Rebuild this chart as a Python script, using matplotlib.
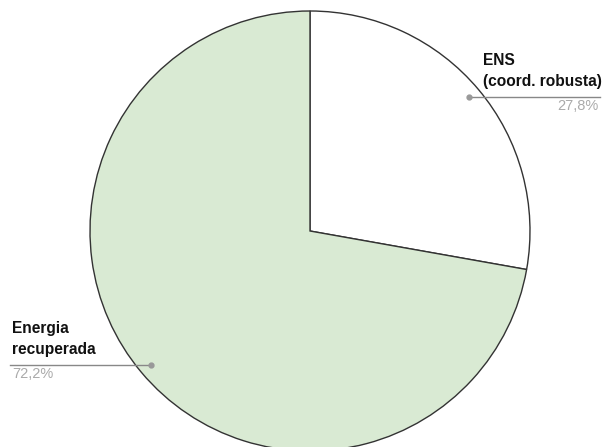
import numpy as np
import matplotlib.pyplot as plt

# data
labels = ['ENS\n(coord. robusta)', 'Energia\nrecuperada']
values = [27.8, 72.2]
pct_text = ['27,8%', '72,2%']
colors = ['#ffffff', '#d9ead3']

plt.rcParams['font.family'] = ['Liberation Sans', 'DejaVu Sans']

fig = plt.figure(figsize=(6.03, 4.47), dpi=100)
ax = fig.add_axes([0, 0, 1, 1])

cx, cy, R = 310, 216, 220
wedges, _ = ax.pie(values, colors=colors, startangle=90, counterclock=False,
                   center=(cx, cy), radius=R, frame=True,
                   wedgeprops=dict(edgecolor='#333333', linewidth=1.0))
ax.set_xlim(0, 603)
ax.set_ylim(0, 447)
ax.set_aspect('equal')
ax.axis('off')

# leader lines and labels
for i, w in enumerate(wedges):
    mid = np.deg2rad((w.theta1 + w.theta2) / 2)
    px = cx + 0.945 * R * np.cos(mid)
    py = cy + 0.945 * R * np.sin(mid)
    ax.plot(px, py, 'o', color='#999999', ms=3.5, zorder=5)
    if np.cos(mid) > 0:
        ax.plot([px, 600], [py, py], color='#888888', lw=1, zorder=4)
        ax.text(483, py + 8, labels[i], ha='left', va='bottom', fontsize=11.2,
                fontweight='bold', color='#111111', linespacing=1.5)
        ax.text(598, py - 2, pct_text[i], ha='right', va='top', fontsize=10.5,
                color='#aaaaaa')
    else:
        ax.plot([10, px], [py, py], color='#888888', lw=1, zorder=4)
        ax.text(12, py + 8, labels[i], ha='left', va='bottom', fontsize=11.2,
                fontweight='bold', color='#111111', linespacing=1.5)
        ax.text(12, py - 2, pct_text[i], ha='left', va='top', fontsize=10.5,
                color='#aaaaaa')

fig.savefig('out.png', dpi=100)
